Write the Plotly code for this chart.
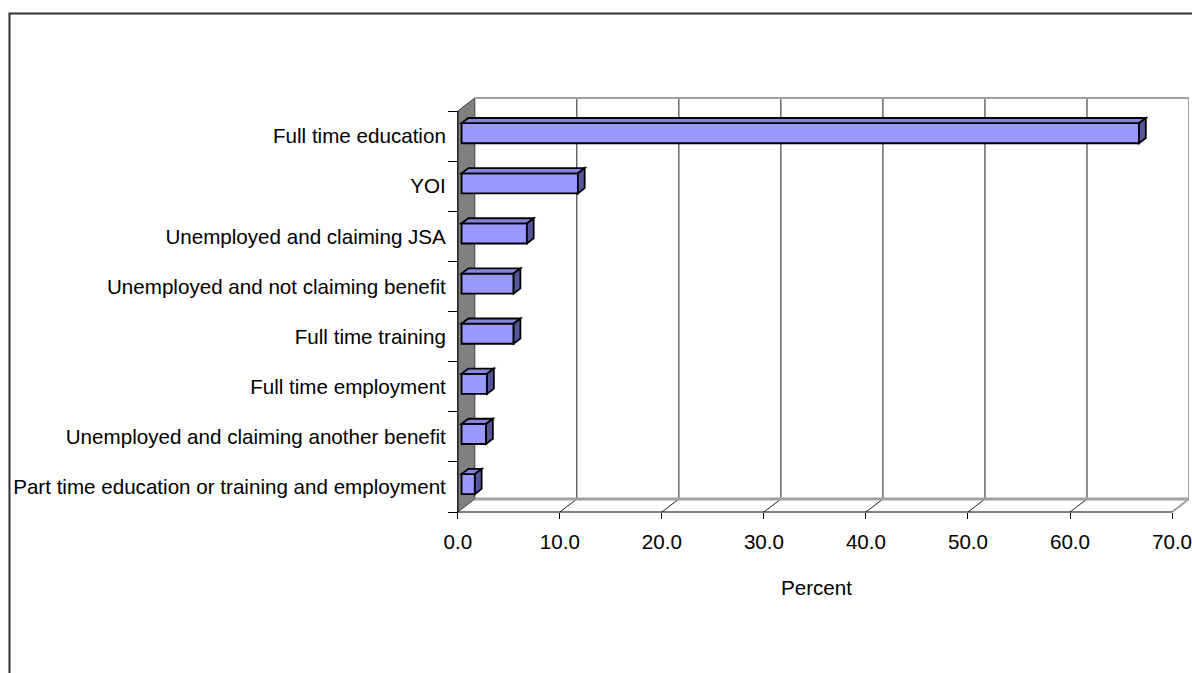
import plotly.graph_objects as go

# Destination of school leavers, percent (top to bottom as shown)
categories = [
    "Full time education",
    "YOI",
    "Unemployed and claiming JSA",
    "Unemployed and not claiming benefit",
    "Full time training",
    "Full time employment",
    "Unemployed and claiming another benefit",
    "Part time education or training and employment",
]
values = [66.4, 11.4, 6.4, 5.1, 5.1, 2.5, 2.4, 1.3]
x_ticks = [0, 10, 20, 30, 40, 50, 60, 70]
x_title = "Percent"

# ---- page / frame geometry (pixels) ----
W, H = 1192, 673
X0_PX, XMAX_PX = 459, 1175          # front axis: 0 and 70
Y_TOP_PX, Y_BOT_PX = 111, 512       # front edge of the category band
DEPTH_DX_PX, DEPTH_DY_PX = 17, 13   # 3-D depth offset of back wall

n = len(categories)
xmax = x_ticks[-1]
px_x = (XMAX_PX - X0_PX) / xmax
px_y = (Y_BOT_PX - Y_TOP_PX) / n
x_range = [-X0_PX / px_x, (W - X0_PX) / px_x]
y_lo, y_hi = -0.5, n - 0.5
y_range = [y_lo - (H - Y_BOT_PX) / px_y, y_hi + Y_TOP_PX / px_y]

DX = DEPTH_DX_PX / px_x      # depth offset in data units
DY = DEPTH_DY_PX / px_y

# bar placement inside the depth
F0, FD = 0.22, 0.40          # front position and thickness (fraction of depth)
BAR_W = 0.40
base = F0 * DX
lift = F0 * DY
bdx, bdy = FD * DX, FD * DY

ypos = [n - 1 - i for i in range(n)]

FRONT = "#9999FF"
TOP = "#8585E0"
SIDE = "#55559A"
WALL = "#808080"
EDGE = "#A0A0A0"

fig = go.Figure()
fig.add_trace(go.Bar(
    x=values, y=ypos, base=[base] * n, orientation="h",
    width=BAR_W, offset=-BAR_W / 2 + lift,
    marker=dict(color=FRONT, line=dict(color="black", width=1.8)),
    hoverinfo="skip",
))

shapes = []

def path(pts):
    return "M " + " L ".join(f"{x:.4f},{y:.4f}" for x, y in pts) + " Z"

# left side wall
shapes.append(dict(type="path", xref="x", yref="y", layer="below",
                   path=path([(0, y_lo), (DX, y_lo + DY), (DX, y_hi + DY), (0, y_hi)]),
                   fillcolor=WALL, line=dict(color="#404040", width=1)))
# back wall gridlines and floor diagonals
for t in x_ticks[1:-1]:
    shapes.append(dict(type="line", xref="x", yref="y", layer="below",
                       x0=t + DX, x1=t + DX, y0=y_lo + DY, y1=y_hi + DY,
                       line=dict(color="#202020", width=1)))
    shapes.append(dict(type="line", xref="x", yref="y", layer="below",
                       x0=t, x1=t + DX, y0=y_lo, y1=y_lo + DY,
                       line=dict(color="#202020", width=1)))
# back wall outline
shapes.append(dict(type="path", xref="x", yref="y", layer="below",
                   path="M {a},{b} L {c},{b} L {c},{d}".format(
                       a=DX, b=y_hi + DY, c=xmax + DX, d=y_lo + DY),
                   line=dict(color=EDGE, width=2)))
shapes.append(dict(type="line", xref="x", yref="y", layer="below",
                   x0=DX, x1=xmax + DX, y0=y_lo + DY, y1=y_lo + DY,
                   line=dict(color=EDGE, width=3)))
shapes.append(dict(type="line", xref="x", yref="y", layer="below",
                   x0=xmax, x1=xmax + DX, y0=y_lo, y1=y_lo + DY,
                   line=dict(color=EDGE, width=2)))
# front axis lines
shapes.append(dict(type="line", xref="x", yref="y", layer="above",
                   x0=0, x1=xmax, y0=y_lo, y1=y_lo,
                   line=dict(color="black", width=1)))
shapes.append(dict(type="line", xref="x", yref="y", layer="above",
                   x0=0, x1=0, y0=y_lo, y1=y_hi,
                   line=dict(color="black", width=1)))

# 3-D top and side faces of each bar
for v, y in zip(values, ypos):
    y0 = y - BAR_W / 2 + lift
    y1 = y + BAR_W / 2 + lift
    x1 = base + v
    shapes.append(dict(type="path", xref="x", yref="y", layer="above",
                       path=path([(base, y1), (x1, y1), (x1 + bdx, y1 + bdy), (base + bdx, y1 + bdy)]),
                       fillcolor=TOP, line=dict(color="black", width=1.8)))
    shapes.append(dict(type="path", xref="x", yref="y", layer="above",
                       path=path([(x1, y0), (x1, y1), (x1 + bdx, y1 + bdy), (x1 + bdx, y0 + bdy)]),
                       fillcolor=SIDE, line=dict(color="black", width=1.8)))

# chart area border
shapes.append(dict(type="path", xref="paper", yref="paper", layer="above",
                   path="M {l},-0.05 L {l},{t} L 1.05,{t}".format(l=9.5 / W, t=1 - 13.5 / H),
                   line=dict(color="#303030", width=2)))

font = dict(family="Liberation Sans, Arial, sans-serif", size=20.6, color="black")

fig.update_layout(
    width=W, height=H,
    margin=dict(l=0, r=0, t=0, b=0),
    paper_bgcolor="white", plot_bgcolor="white",
    showlegend=False, font=font, hovermode=False,
    shapes=shapes,
    xaxis=dict(range=x_range, domain=[0, 1], anchor="free",
               position=(H - Y_BOT_PX) / H, side="bottom",
               tickmode="array", tickvals=x_ticks, tickformat=".1f",
               ticks="outside", ticklen=6, tickcolor="black", tickwidth=1,
               ticklabelstandoff=5, ticklabeloverflow="allow",
               showgrid=False, zeroline=False, showline=False, fixedrange=True),
    yaxis=dict(range=y_range, domain=[0, 1], anchor="free",
               position=X0_PX / W, side="left",
               tickmode="array", tickvals=ypos, ticktext=categories, ticks="",
               minor=dict(tickmode="array", tickvals=[k - 0.5 for k in range(n + 1)],
                          ticks="outside", ticklen=10, tickcolor="black", tickwidth=1,
                          showgrid=False),
               ticklabelstandoff=12, ticklabeloverflow="allow",
               showgrid=False, zeroline=False, showline=False, fixedrange=True),
    annotations=[dict(text=x_title, xref="x", yref="paper",
                      x=35.2, y=(H - 587) / H, showarrow=False,
                      xanchor="center", yanchor="middle", font=font)],
)

fig.write_html("out.html", config={"displayModeBar": False})
